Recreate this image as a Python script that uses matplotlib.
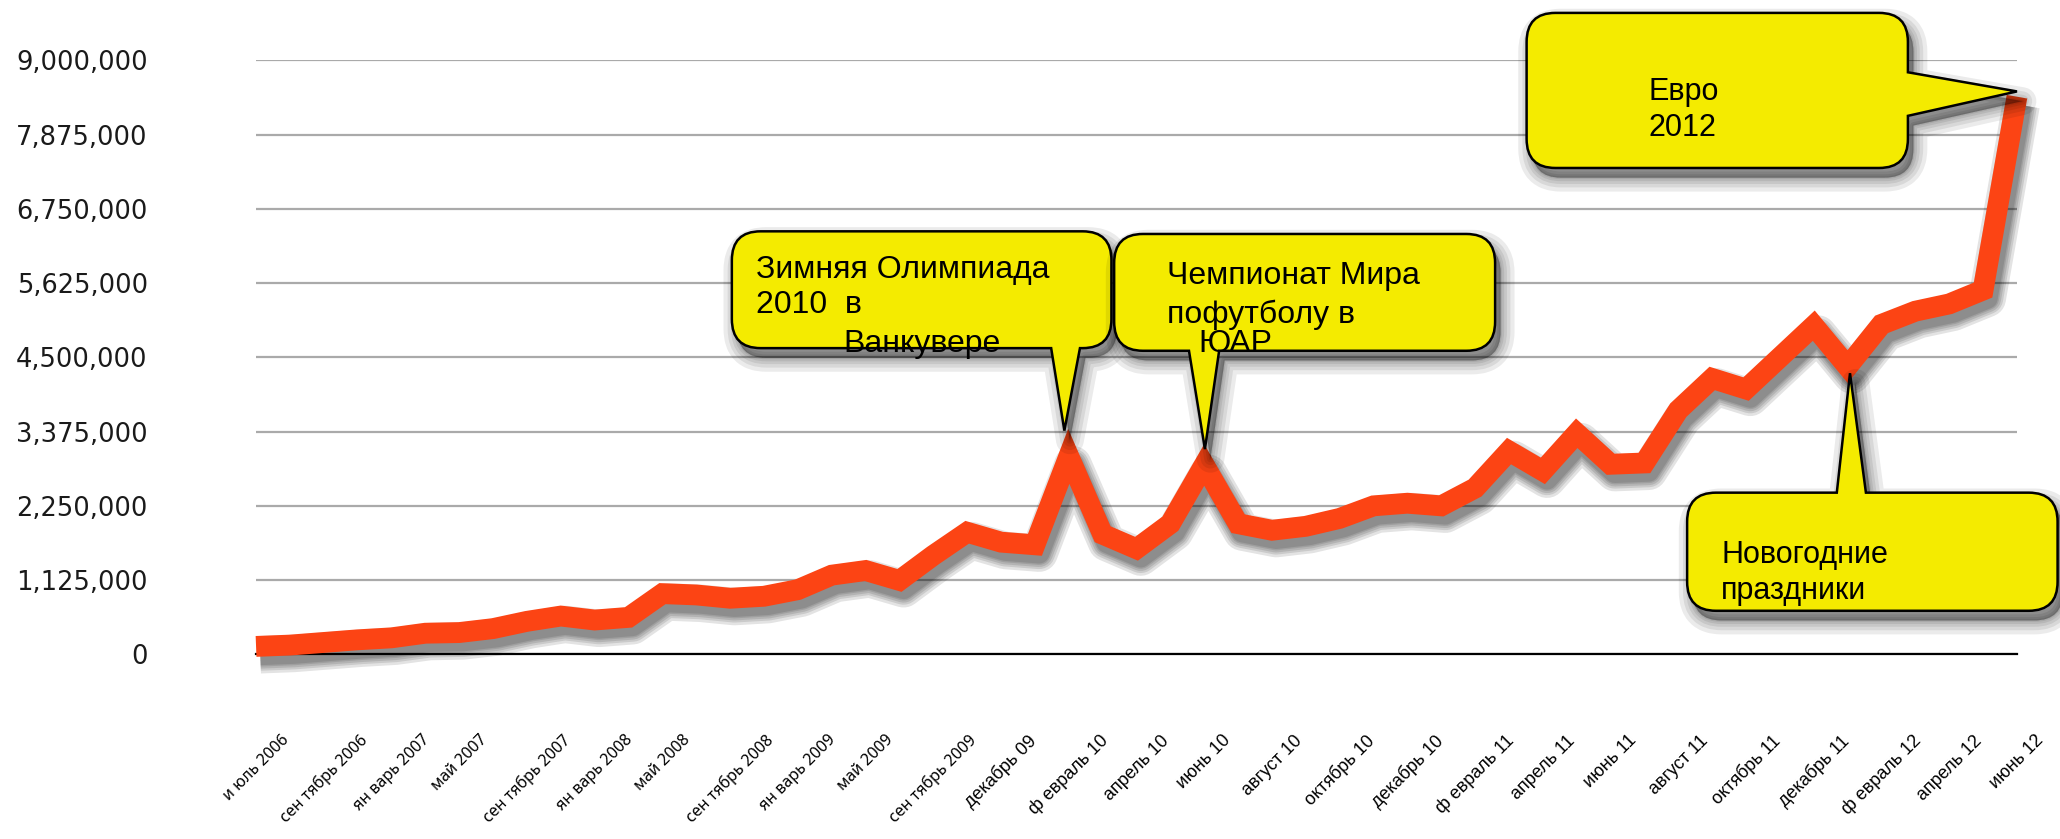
import numpy as np
import matplotlib
matplotlib.use('Agg')
import matplotlib.pyplot as plt
import matplotlib.patheffects as pe
from matplotlib.path import Path
from matplotlib.patches import PathPatch
from matplotlib.transforms import ScaledTranslation

# x-axis labels (every second point is labelled)
month_labels = ['и юль 2006', 'сен тябрь 2006', 'ян варь 2007', 'май 2007',
                'сен тябрь 2007', 'ян варь 2008', 'май 2008', 'сен тябрь 2008',
                'ян варь 2009', 'май 2009', 'сен тябрь 2009', 'декабрь 09',
                'ф евраль 10', 'апрель 10', 'июнь 10', 'август 10', 'октябрь 10',
                'декабрь 10', 'ф евраль 11', 'апрель 11', 'июнь 11', 'август 11',
                'октябрь 11', 'декабрь 11', 'ф евраль 12', 'апрель 12', 'июнь 12']

# visits per period, millions
visits_m = [0.12, 0.14, 0.18, 0.22, 0.25, 0.32, 0.33, 0.39, 0.50, 0.58,
            0.52, 0.56, 0.92, 0.90, 0.85, 0.88, 0.98, 1.20, 1.27, 1.12,
            1.50, 1.85, 1.70, 1.66, 3.00, 1.82, 1.60, 1.98, 2.87, 1.98,
            1.88, 1.94, 2.06, 2.25, 2.29, 2.25, 2.52, 3.08, 2.78, 3.35,
            2.88, 2.90, 3.70, 4.18, 4.02, 4.50, 4.98, 4.36, 5.00, 5.20,
            5.31, 5.52, 8.45]

y_ticks = [0, 1125000, 2250000, 3375000, 4500000, 5625000, 6750000, 7875000, 9000000]

visits = np.array(visits_m) * 1e6
x = np.arange(len(visits))

LINE_RED = '#FC4414'
YELLOW = '#F4EB00'

fig = plt.figure(figsize=(20.6, 8.39), dpi=100)
ax = fig.add_axes([0.1243, 0.2201, 0.8548, 0.7079])
ax.set_xlim(0, len(visits) - 1)
ax.set_ylim(0, 9e6)

for s in ['top', 'right', 'left']:
    ax.spines[s].set_visible(False)
ax.spines['bottom'].set_color('black')
ax.spines['bottom'].set_linewidth(1.6)

ax.set_yticks(y_ticks)
ax.set_yticklabels([f'{v:,}' for v in y_ticks], fontsize=18.5,
                   family='DejaVu Sans', color='#1a1a1a')
ax.yaxis.grid(True, color='#aaaaaa', linewidth=1.6)
ax.set_axisbelow(True)
ax.tick_params(axis='y', length=0, pad=78)

ax.set_xticks(x[::2])
ax.set_xticklabels(month_labels, rotation=45, ha='center', va='top', fontsize=13)
for i, lbl in enumerate(ax.get_xticklabels()):
    if i <= 10:
        lbl.set_family('Noto Sans')
        lbl.set_fontsize(11.5)
    else:
        lbl.set_family('Liberation Sans')
ax.tick_params(axis='x', length=0, pad=56)

# soft drop shadow under the thick line
line_lw = 15
shadow = [pe.SimpleLineShadow(offset=(3, -6), shadow_color='black', alpha=0.11,
                              linewidth=line_lw + w, joinstyle='round')
          for w in (12, 8, 5, 2, 0)]
ax.plot(x, visits, color=LINE_RED, lw=line_lw, solid_joinstyle='miter',
        solid_capstyle='butt', zorder=4, clip_on=False,
        path_effects=shadow + [pe.Normal()])


def callout_path(x0, x1, y0, y1, side, b0, b1, tip, rx=0.85, ry=0.44e6):
    verts, codes = [], []

    def add(p, c=Path.LINETO):
        verts.append(p)
        codes.append(c)

    def corner(c, p):
        add(c, Path.CURVE3)
        add(p, Path.CURVE3)

    add((x0 + rx, y1), Path.MOVETO)
    if side == 'top':
        add((b0, y1)); add(tip); add((b1, y1))
    add((x1 - rx, y1))
    corner((x1, y1), (x1, y1 - ry))
    if side == 'right':
        add((x1, b1)); add(tip); add((x1, b0))
    add((x1, y0 + ry))
    corner((x1, y0), (x1 - rx, y0))
    if side == 'bottom':
        add((b1, y0)); add(tip); add((b0, y0))
    add((x0 + rx, y0))
    corner((x0, y0), (x0, y0 + ry))
    add((x0, y1 - ry))
    corner((x0, y1), (x0 + rx, y1))
    add((0, 0), Path.CLOSEPOLY)
    return Path(verts, codes)


def draw_callout(path, z):
    off = ax.transData + ScaledTranslation(4 / 72, -7 / 72, fig.dpi_scale_trans)
    for w in (20, 14, 9, 5, 2):
        ax.add_patch(PathPatch(path, facecolor='black', edgecolor='black', lw=w,
                               alpha=0.08, joinstyle='round', transform=off,
                               clip_on=False, zorder=z))
    ax.add_patch(PathPatch(path, facecolor=YELLOW, edgecolor='black', lw=1.8,
                           joinstyle='miter', clip_on=False, zorder=z + 0.1))


narrow = ['Liberation Sans Narrow', 'Liberation Sans']
arial = ['Liberation Sans']

# Winter Olympics 2010
p = callout_path(14.05, 25.26, 4.64e6, 6.41e6, 'bottom', 23.48, 24.33,
                 (23.87, visits[24] + 0.39e6))
draw_callout(p, 5)
ax.text(14.75, 5.83e6, 'Зимняя Олимпиада', family=narrow, fontsize=23, va='center', zorder=6)
ax.text(14.75, 5.30e6, '2010  в', family=narrow, fontsize=23, va='center', zorder=6)
ax.text(17.35, 4.70e6, 'Ванкувере', family=narrow, fontsize=23, va='center', zorder=6)

# World Cup 2010
p = callout_path(25.34, 36.59, 4.60e6, 6.37e6, 'bottom', 27.55, 28.44,
                 (28.02, visits[28] + 0.24e6))
draw_callout(p, 7)
ax.text(26.89, 5.73e6, 'Чемпионат Мира', family=narrow, fontsize=23, va='center', zorder=8)
ax.text(26.89, 5.14e6, 'пофутболу в', family=narrow, fontsize=23, va='center', zorder=8)
ax.text(27.82, 4.70e6, 'ЮАР', family=narrow, fontsize=23, va='center', zorder=8)

# New Year holidays
p = callout_path(42.26, 53.2, 0.66e6, 2.45e6, 'top', 46.68, 47.54,
                 (47.07, visits[47] - 0.1e6))
draw_callout(p, 9)
ax.text(43.27, 1.51e6, 'Новогодние', family=arial, fontsize=22, va='center', zorder=10)
ax.text(43.27, 0.96e6, 'праздники', family=arial, fontsize=22, va='center', zorder=10)

# Euro 2012
p = callout_path(37.52, 48.78, 7.37e6, 9.72e6, 'right', 8.16e6, 8.82e6,
                 (52.0, visits[52] + 0.08e6))
draw_callout(p, 11)
ax.text(41.13, 8.52e6, 'Евро', family=arial, fontsize=22, va='center', zorder=12)
ax.text(41.13, 7.97e6, '2012', family=arial, fontsize=22, va='center', zorder=12)

fig.savefig('out.png', dpi=100, facecolor='white')
